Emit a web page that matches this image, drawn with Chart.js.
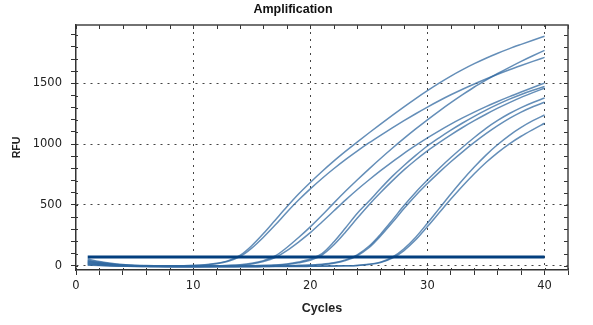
<!DOCTYPE html>
<html>
<head>
<meta charset="utf-8">
<title>Amplification</title>
<script src="https://cdn.jsdelivr.net/npm/chart.js@4.4.0/dist/chart.umd.min.js"></script>
<style>
  html, body { margin: 0; padding: 0; background: #fff; }
  #wrap { width: 593px; height: 325px; }
</style>
</head>
<body>
<div id="wrap"><canvas id="myChart" width="593" height="325"></canvas></div>
<script>
// Cycle numbers (x) for every well
const cycles = [1,2,3,4,5,6,7,8,9,10,11,12,13,14,15,16,17,18,19,20,21,22,23,24,25,26,27,28,29,30,31,32,33,34,35,36,37,38,39,40];

// RFU readings per well
const wellA1 = [55,35,20,10,4,1,0,-1,0,2,8,20,42,85,165,265,375,485,590,685,775,860,940,1017,1092,1165,1237,1307,1375,1440,1502,1560,1613,1662,1707,1748,1786,1821,1855,1888];
const wellA2 = [40,25,14,7,2,0,-1,-1,0,2,7,17,37,75,145,235,335,440,540,632,718,798,873,943,1010,1073,1134,1193,1250,1305,1357,1406,1452,1495,1536,1575,1612,1647,1681,1714];
const wellB1 = [25,15,8,3,0,-2,-3,-3,-3,-2,-1,0,3,8,20,42,80,150,232,320,415,515,612,705,795,882,966,1047,1125,1200,1272,1341,1407,1470,1527,1581,1632,1681,1727,1771];
const wellB2 = [15,8,3,0,-2,-3,-4,-4,-4,-3,-2,-1,1,5,15,35,68,125,195,272,360,450,540,625,705,782,855,925,990,1052,1110,1165,1216,1264,1309,1351,1391,1429,1466,1502];
const wellC1 = [30,18,10,4,0,-3,-4,-5,-5,-5,-4,-3,-2,-1,0,2,6,14,30,55,100,195,310,430,530,635,735,825,908,985,1052,1115,1174,1229,1280,1327,1370,1409,1443,1474];
const wellC2 = [20,12,6,2,-1,-3,-5,-5,-6,-6,-5,-4,-3,-2,-1,1,4,10,24,45,88,170,275,390,500,602,698,788,870,945,1013,1077,1137,1193,1246,1296,1342,1385,1424,1461];
const wellD1 = [10,4,0,-3,-5,-6,-7,-7,-7,-7,-7,-6,-6,-5,-5,-4,-3,-1,2,6,12,24,48,90,160,260,375,495,605,705,800,890,975,1055,1130,1195,1252,1301,1343,1379];
const wellD2 = [5,1,-2,-4,-6,-7,-8,-8,-8,-8,-8,-7,-7,-6,-6,-5,-4,-2,1,4,9,20,42,82,148,245,355,470,578,676,768,855,937,1014,1086,1152,1212,1264,1308,1345];
const wellE1 = [45,28,15,6,0,-3,-5,-6,-7,-7,-7,-7,-7,-6,-6,-6,-5,-5,-4,-4,-3,-2,0,3,12,30,70,140,235,350,470,590,705,812,910,997,1073,1138,1193,1240];
const wellE2 = [35,20,10,3,-2,-5,-7,-8,-8,-9,-9,-9,-8,-8,-8,-7,-7,-6,-6,-5,-4,-3,-1,2,10,26,62,125,213,322,435,548,656,757,849,931,1003,1065,1120,1172];

// Threshold line
const thresholdCycles = [1, 40];
const thresholdRfu = 72;

const wells = [wellA1, wellA2, wellB1, wellB2, wellC1, wellC2, wellD1, wellD2, wellE1, wellE2];

Chart.defaults.font.family = '"Liberation Sans", Arial, sans-serif';
Chart.defaults.color = '#222';
const tickFont = {family: '"DejaVu Sans", Verdana, sans-serif', size: 11.5};

// inner tick marks + top/right frame
const frameTicks = {
    id: 'frameTicks',
    afterDraw(chart) {
        const {ctx, chartArea: a, scales: {x, y}} = chart;
        ctx.save();
        ctx.strokeStyle = '#333';
        ctx.lineWidth = 1;
        ctx.beginPath();
        x.ticks.forEach(t => {
            const px = Math.round(x.getPixelForValue(t.value)) + 0.5;
            ctx.moveTo(px, a.top); ctx.lineTo(px, a.top + 4);
            ctx.moveTo(px, a.bottom); ctx.lineTo(px, a.bottom - 2);
        });
        y.ticks.forEach(t => {
            const py = Math.round(y.getPixelForValue(t.value)) + 0.5;
            ctx.moveTo(a.right, py); ctx.lineTo(a.right - 4, py);
            ctx.moveTo(a.left, py); ctx.lineTo(a.left + 2, py);
        });
        ctx.stroke();
        ctx.lineWidth = 1.5;
        ctx.strokeStyle = '#444';
        ctx.beginPath();
        ctx.moveTo(a.left, a.top); ctx.lineTo(a.right, a.top); ctx.lineTo(a.right, a.bottom);
        ctx.stroke();
        ctx.restore();
    }
};

const datasets = [{
    label: 'Threshold',
    data: thresholdCycles.map(c => ({x: c, y: thresholdRfu})),
    borderColor: '#033f7e',
    borderWidth: 3,
    pointRadius: 0
}];
wells.forEach((vals, i) => {
    datasets.push({
        label: 'Well ' + (i + 1),
        data: cycles.map((c, j) => ({x: c, y: vals[j]})),
        borderColor: 'rgba(48, 104, 160, 0.75)',
        borderWidth: 1.5,
        pointRadius: 0,
        cubicInterpolationMode: 'monotone'
    });
});

const ctx = document.getElementById('myChart').getContext('2d');
new Chart(ctx, {
    type: 'line',
    data: {datasets: datasets},
    plugins: [frameTicks],
    options: {
        responsive: false,
        animation: false,
        devicePixelRatio: 1,
        layout: {padding: {left: 18, right: 25, top: 0, bottom: 0}},
        plugins: {
            legend: {display: false},
            tooltip: {enabled: false},
            title: {
                display: true,
                text: 'Amplification',
                color: '#111',
                font: {size: 12.5, weight: 'bold'},
                padding: {top: 2, bottom: 8}
            }
        },
        scales: {
            x: {
                type: 'linear',
                min: 0,
                max: 42,
                afterFit: s => { s.height = 55; },
                title: {display: true, text: 'Cycles', color: '#222', font: {size: 12.5, weight: 'bold'}, padding: {top: 0, bottom: 9}},
                ticks: {
                    stepSize: 2, autoSkip: false, maxRotation: 0, includeBounds: false,
                    padding: 4, font: tickFont,
                    callback: v => (v % 10 === 0 && v <= 40) ? v : ''
                },
                grid: {
                    color: c => (c.tick && c.tick.value % 10 === 0 && c.tick.value > 0 && c.tick.value <= 40) ? '#444' : 'rgba(0,0,0,0)',
                    tickColor: '#333',
                    tickLength: 5
                },
                border: {color: '#333', width: 1.5, dash: [2, 5]}
            },
            y: {
                min: -35,
                max: 1980,
                afterFit: s => { s.width = 58; },
                title: {display: true, text: 'RFU', color: '#222', font: {size: 10.5, weight: 'bold'}, padding: {top: -7, bottom: 0}},
                ticks: {
                    stepSize: 100, autoSkip: false, includeBounds: false,
                    padding: 9, font: tickFont,
                    callback: v => (v % 500 === 0) ? v : ''
                },
                grid: {
                    color: c => (c.tick && c.tick.value % 500 === 0) ? '#444' : 'rgba(0,0,0,0)',
                    tickColor: '#333',
                    tickLength: 5
                },
                border: {color: '#333', width: 1.5, dash: [2, 5]}
            }
        }
    }
});
</script>
</body>
</html>
